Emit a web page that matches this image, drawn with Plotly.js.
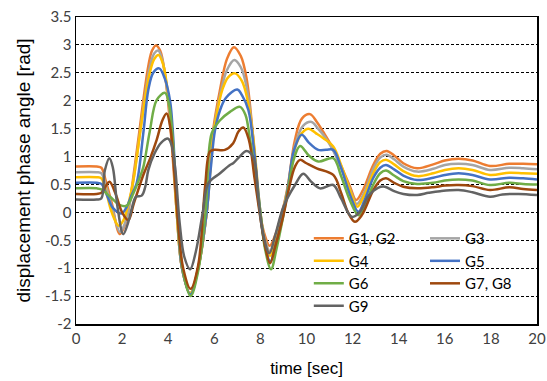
<!DOCTYPE html>
<html>
<head>
<meta charset="utf-8">
<script src="https://cdn.plot.ly/plotly-3.0.1.min.js"></script>
<style>html,body{margin:0;padding:0;background:#fff;}#chart{width:547px;height:381px;}</style>
</head>
<body>
<div id="chart"></div>
<script>
// ---- data (time [sec], displacement phase angle [rad]) ----
var seriesNames = ["G1, G2", "G3", "G4", "G5", "G6", "G7, G8", "G9"];

var tG1 = [0,0.9,1.1,1.3,1.55,1.9,2.1,2.3,2.45,2.78,2.95,3.15,3.3,3.47,3.65,3.85,4.1,4.37,4.6,4.95,5.3,5.67,5.95,6.25,6.55,6.85,7.15,7.4,7.65,7.98,8.2,8.4,8.65,9.0,9.2,9.5,9.8,10.15,10.45,10.73,11.02,11.45,11.89,12.15,12.45,12.9,13.2,13.48,13.8,14.2,14.8,15.5,16.0,16.6,17.2,17.96,18.8,19.4,20];
var vG1 = [0.82,0.82,0.80,0.55,0.17,-0.39,-0.25,0.1,0.52,1.55,2.1,2.65,2.9,2.99,2.9,2.5,1.5,0.0,-1.0,-1.45,-1.0,0.0,1.47,2.2,2.75,2.96,2.8,2.4,1.5,0.0,-0.42,-0.6,-0.4,0.1,0.5,1.3,1.68,1.76,1.62,1.44,1.24,0.88,0.46,0.22,0.4,0.85,1.05,1.10,1.02,0.88,0.79,0.86,0.93,0.96,0.93,0.83,0.87,0.87,0.86];

var tG3 = [0,0.9,1.1,1.3,1.55,1.91,2.1,2.3,2.5,2.8,3.0,3.2,3.4,3.57,3.75,3.95,4.15,4.37,4.6,4.95,5.3,5.67,5.95,6.25,6.55,6.87,7.15,7.4,7.65,7.98,8.2,8.42,8.65,9.0,9.2,9.5,9.85,10.22,10.5,10.8,11.1,11.5,11.9,12.18,12.5,12.9,13.2,13.48,13.8,14.2,14.8,15.5,16.0,16.6,17.2,17.96,18.8,19.4,20];
var vG3 = [0.72,0.72,0.70,0.47,0.1,-0.35,-0.22,0.1,0.6,1.5,2.1,2.6,2.85,2.9,2.72,2.2,1.45,0.0,-1.0,-1.45,-1.0,0.0,1.4,2.1,2.55,2.73,2.6,2.25,1.45,0.0,-0.5,-0.7,-0.45,0.08,0.47,1.2,1.55,1.62,1.5,1.35,1.15,0.8,0.4,0.15,0.35,0.78,0.98,1.03,0.95,0.82,0.73,0.78,0.85,0.87,0.85,0.76,0.80,0.79,0.77];

var tG4 = [0,0.9,1.1,1.3,1.55,1.85,2.05,2.3,2.5,2.78,3.0,3.2,3.4,3.58,3.78,4.0,4.17,4.37,4.6,4.95,5.3,5.67,5.95,6.1,6.35,6.6,6.9,7.2,7.45,7.7,8.0,8.2,8.42,8.65,9.0,9.2,9.5,9.8,10.08,10.4,10.73,11.16,11.5,11.9,12.2,12.5,12.9,13.2,13.48,13.8,14.2,14.8,15.5,16.0,16.6,17.2,17.96,18.8,19.4,20];
var vG4 = [0.63,0.63,0.61,0.38,0.0,-0.24,-0.15,0.2,0.6,1.42,2.05,2.5,2.75,2.82,2.65,2.1,1.45,0.0,-1.0,-1.45,-1.0,0.0,1.35,1.75,2.2,2.42,2.49,2.35,2.0,1.3,0.0,-0.55,-0.78,-0.5,0.05,0.45,1.15,1.42,1.50,1.42,1.33,1.18,0.85,0.38,0.10,0.3,0.7,0.9,0.94,0.86,0.74,0.65,0.70,0.76,0.79,0.76,0.67,0.71,0.70,0.69];

var tG5 = [0,0.9,1.1,1.35,1.6,1.98,2.2,2.4,2.63,2.92,3.14,3.35,3.61,3.85,4.08,4.2,4.4,4.6,4.97,5.3,5.67,5.85,6.03,6.25,6.5,7.0,7.2,7.48,7.7,8.0,8.2,8.43,8.65,9.0,9.2,9.45,9.79,10.1,10.51,10.85,11.16,11.5,11.9,12.25,12.5,12.9,13.2,13.45,13.8,14.2,14.8,15.5,16.0,16.6,17.2,17.96,18.8,19.4,20];
var vG5 = [0.53,0.53,0.51,0.3,0.08,-0.02,0.1,0.3,0.52,1.42,2.2,2.5,2.58,2.4,2.0,1.45,0.0,-1.0,-1.47,-1.0,0.0,0.8,1.47,1.83,2.05,2.2,2.1,1.83,1.2,0.0,-0.6,-0.88,-0.6,0.0,0.45,1.1,1.39,1.25,1.12,1.12,1.12,0.8,0.3,0.01,0.2,0.62,0.8,0.85,0.77,0.66,0.58,0.62,0.67,0.70,0.67,0.59,0.62,0.61,0.59];

var tG6 = [0,0.9,1.1,1.48,1.91,2.2,2.5,2.78,2.92,3.2,3.5,3.86,4.05,4.2,4.4,4.62,4.97,5.3,5.62,5.89,6.25,6.68,7.11,7.35,7.55,7.75,8.0,8.2,8.46,8.7,9.0,9.2,9.45,9.72,10.1,10.51,11.16,11.5,11.9,12.25,12.5,12.9,13.2,13.45,13.8,14.2,14.8,15.5,16.0,16.6,17.2,17.96,18.8,19.4,20];
var vG6 = [0.43,0.43,0.41,0.28,0.13,0.12,0.35,0.64,0.81,1.45,2.01,2.14,1.9,1.3,0.0,-1.0,-1.5,-1.05,0.0,1.42,1.65,1.80,1.89,1.75,1.3,0.8,0.0,-0.65,-1.02,-0.65,-0.05,0.4,0.95,1.19,1.02,0.91,0.97,0.65,0.2,-0.05,0.1,0.5,0.7,0.75,0.66,0.56,0.51,0.53,0.57,0.59,0.57,0.49,0.53,0.51,0.50];

var tG7 = [0,0.9,1.1,1.45,1.7,2.0,2.27,2.5,2.92,3.2,3.5,3.75,3.93,4.1,4.25,4.45,4.65,4.97,5.3,5.6,5.81,6.0,6.46,6.82,7.05,7.26,7.5,7.75,8.0,8.2,8.42,8.65,9.0,9.25,9.5,9.72,10.0,10.44,11.16,11.5,11.8,12.1,12.4,12.9,13.2,13.45,13.8,14.2,14.8,15.5,16.0,16.6,17.2,17.96,18.8,19.4,20];
var vG7 = [0.33,0.33,0.35,0.55,0.35,0.0,-0.14,0.15,0.67,0.95,1.30,1.65,1.77,1.5,0.8,-0.3,-1.0,-1.37,-0.95,0.46,1.09,1.12,1.12,1.24,1.45,1.52,1.3,0.6,-0.1,-0.6,-0.91,-0.6,-0.05,0.45,0.82,0.94,0.88,0.79,0.67,0.35,0.0,-0.17,-0.05,0.4,0.57,0.61,0.53,0.46,0.43,0.45,0.48,0.49,0.47,0.40,0.45,0.42,0.40];

var tG9 = [0,0.9,1.1,1.25,1.45,1.6,1.8,2.05,2.25,2.42,2.6,2.85,3.0,3.14,3.4,3.7,4.0,4.15,4.3,4.5,4.7,4.95,5.2,5.5,5.74,6.25,6.68,6.82,7.1,7.4,7.69,7.9,8.1,8.39,8.65,9.0,9.5,9.86,10.2,10.59,11.16,11.5,11.96,12.3,12.7,13.1,13.4,13.8,14.2,14.8,15.3,15.8,16.6,17.2,17.96,18.5,19.2,20];
var vG9 = [0.23,0.23,0.25,0.75,0.97,0.8,0.1,-0.39,-0.2,0.07,0.28,0.3,0.45,0.76,1.05,1.25,1.32,1.2,0.8,-0.2,-0.8,-1.02,-0.7,0.0,0.52,0.70,0.85,0.88,1.0,1.10,0.99,0.3,-0.35,-0.73,-0.4,0.1,0.49,0.69,0.55,0.43,0.49,0.25,-0.08,0.0,0.3,0.44,0.46,0.38,0.33,0.31,0.35,0.38,0.40,0.36,0.28,0.32,0.33,0.31];

var xTickVals = [0,2,4,6,8,10,12,14,16,18,20];
var xTickText = ["0","2","4","6","8","10","12","14","16","18","20"];
var yTickVals = [-2,-1.5,-1,-0.5,0,0.5,1,1.5,2,2.5,3,3.5];
var yTickText = ["-2","-1.5","-1","-0.5","0","0.5","1","1.5","2","2.5","3","3.5"];

var colors = ["#ED7D31", "#A5A5A5", "#FFC000", "#4472C4", "#70AD47", "#9E480E", "#636363"];
var tArr = [tG1, tG3, tG4, tG5, tG6, tG7, tG9];
var vArr = [vG1, vG3, vG4, vG5, vG6, vG7, vG9];
var legendOf = ["legend", "legend2", "legend", "legend2", "legend", "legend2", "legend"];

var traces = seriesNames.map(function (n, i) {
  return {
    type: "scatter", mode: "lines", name: n,
    x: tArr[i], y: vArr[i],
    line: {color: colors[i], width: 2.5, shape: "spline", smoothing: 1},
    legend: legendOf[i]
  };
});

var tickFont = {family: "Lato, 'Liberation Sans', sans-serif", size: 15, color: "#404040"};
var legFont = {family: "Lato, 'Liberation Sans', sans-serif", size: 15, color: "#000"};

var layout = {
  width: 547, height: 381,
  margin: {l: 76, r: 10, t: 17, b: 57},
  paper_bgcolor: "#fff", plot_bgcolor: "#fff",
  showlegend: true,
  xaxis: {
    range: [0, 20], tickvals: xTickVals, ticktext: xTickText, ticks: "", showgrid: false, zeroline: false,
    showline: true, linecolor: "#000", linewidth: 1.5, mirror: true,
    tickfont: tickFont,
    title: {text: "time [sec]", font: {family: "'Liberation Sans', Arial, sans-serif", size: 17, color: "#000"}, standoff: 16}
  },
  yaxis: {
    range: [-2, 3.5], tickvals: yTickVals, ticktext: yTickText, ticks: "", zeroline: false,
    showgrid: true, gridcolor: "#000", gridwidth: 1, griddash: "3px,2px",
    showline: true, linecolor: "#000", linewidth: 1.5, mirror: true,
    tickfont: tickFont,
    title: {text: "displacement phase angle [rad]", font: {family: "'Liberation Sans', Arial, sans-serif", size: 19, color: "#000"}, standoff: 9}
  },
  shapes: [{
    type: "rect", xref: "paper", yref: "paper", layer: "between",
    x0: 0.482, x1: 0.991, y0: 0.013, y1: 0.31,
    fillcolor: "#fff", line: {width: 0}
  }],
  legend: {
    x: 0.505, y: 0.332, xanchor: "left", yanchor: "top",
    bgcolor: "rgba(0,0,0,0)", borderwidth: 0, font: legFont, tracegroupgap: 0
  },
  legend2: {
    x: 0.757, y: 0.332, xanchor: "left", yanchor: "top",
    bgcolor: "rgba(0,0,0,0)", borderwidth: 0, font: legFont, tracegroupgap: 0
  }
};

Plotly.newPlot("chart", traces, layout, {displayModeBar: false, staticPlot: true});
</script>
</body>
</html>
